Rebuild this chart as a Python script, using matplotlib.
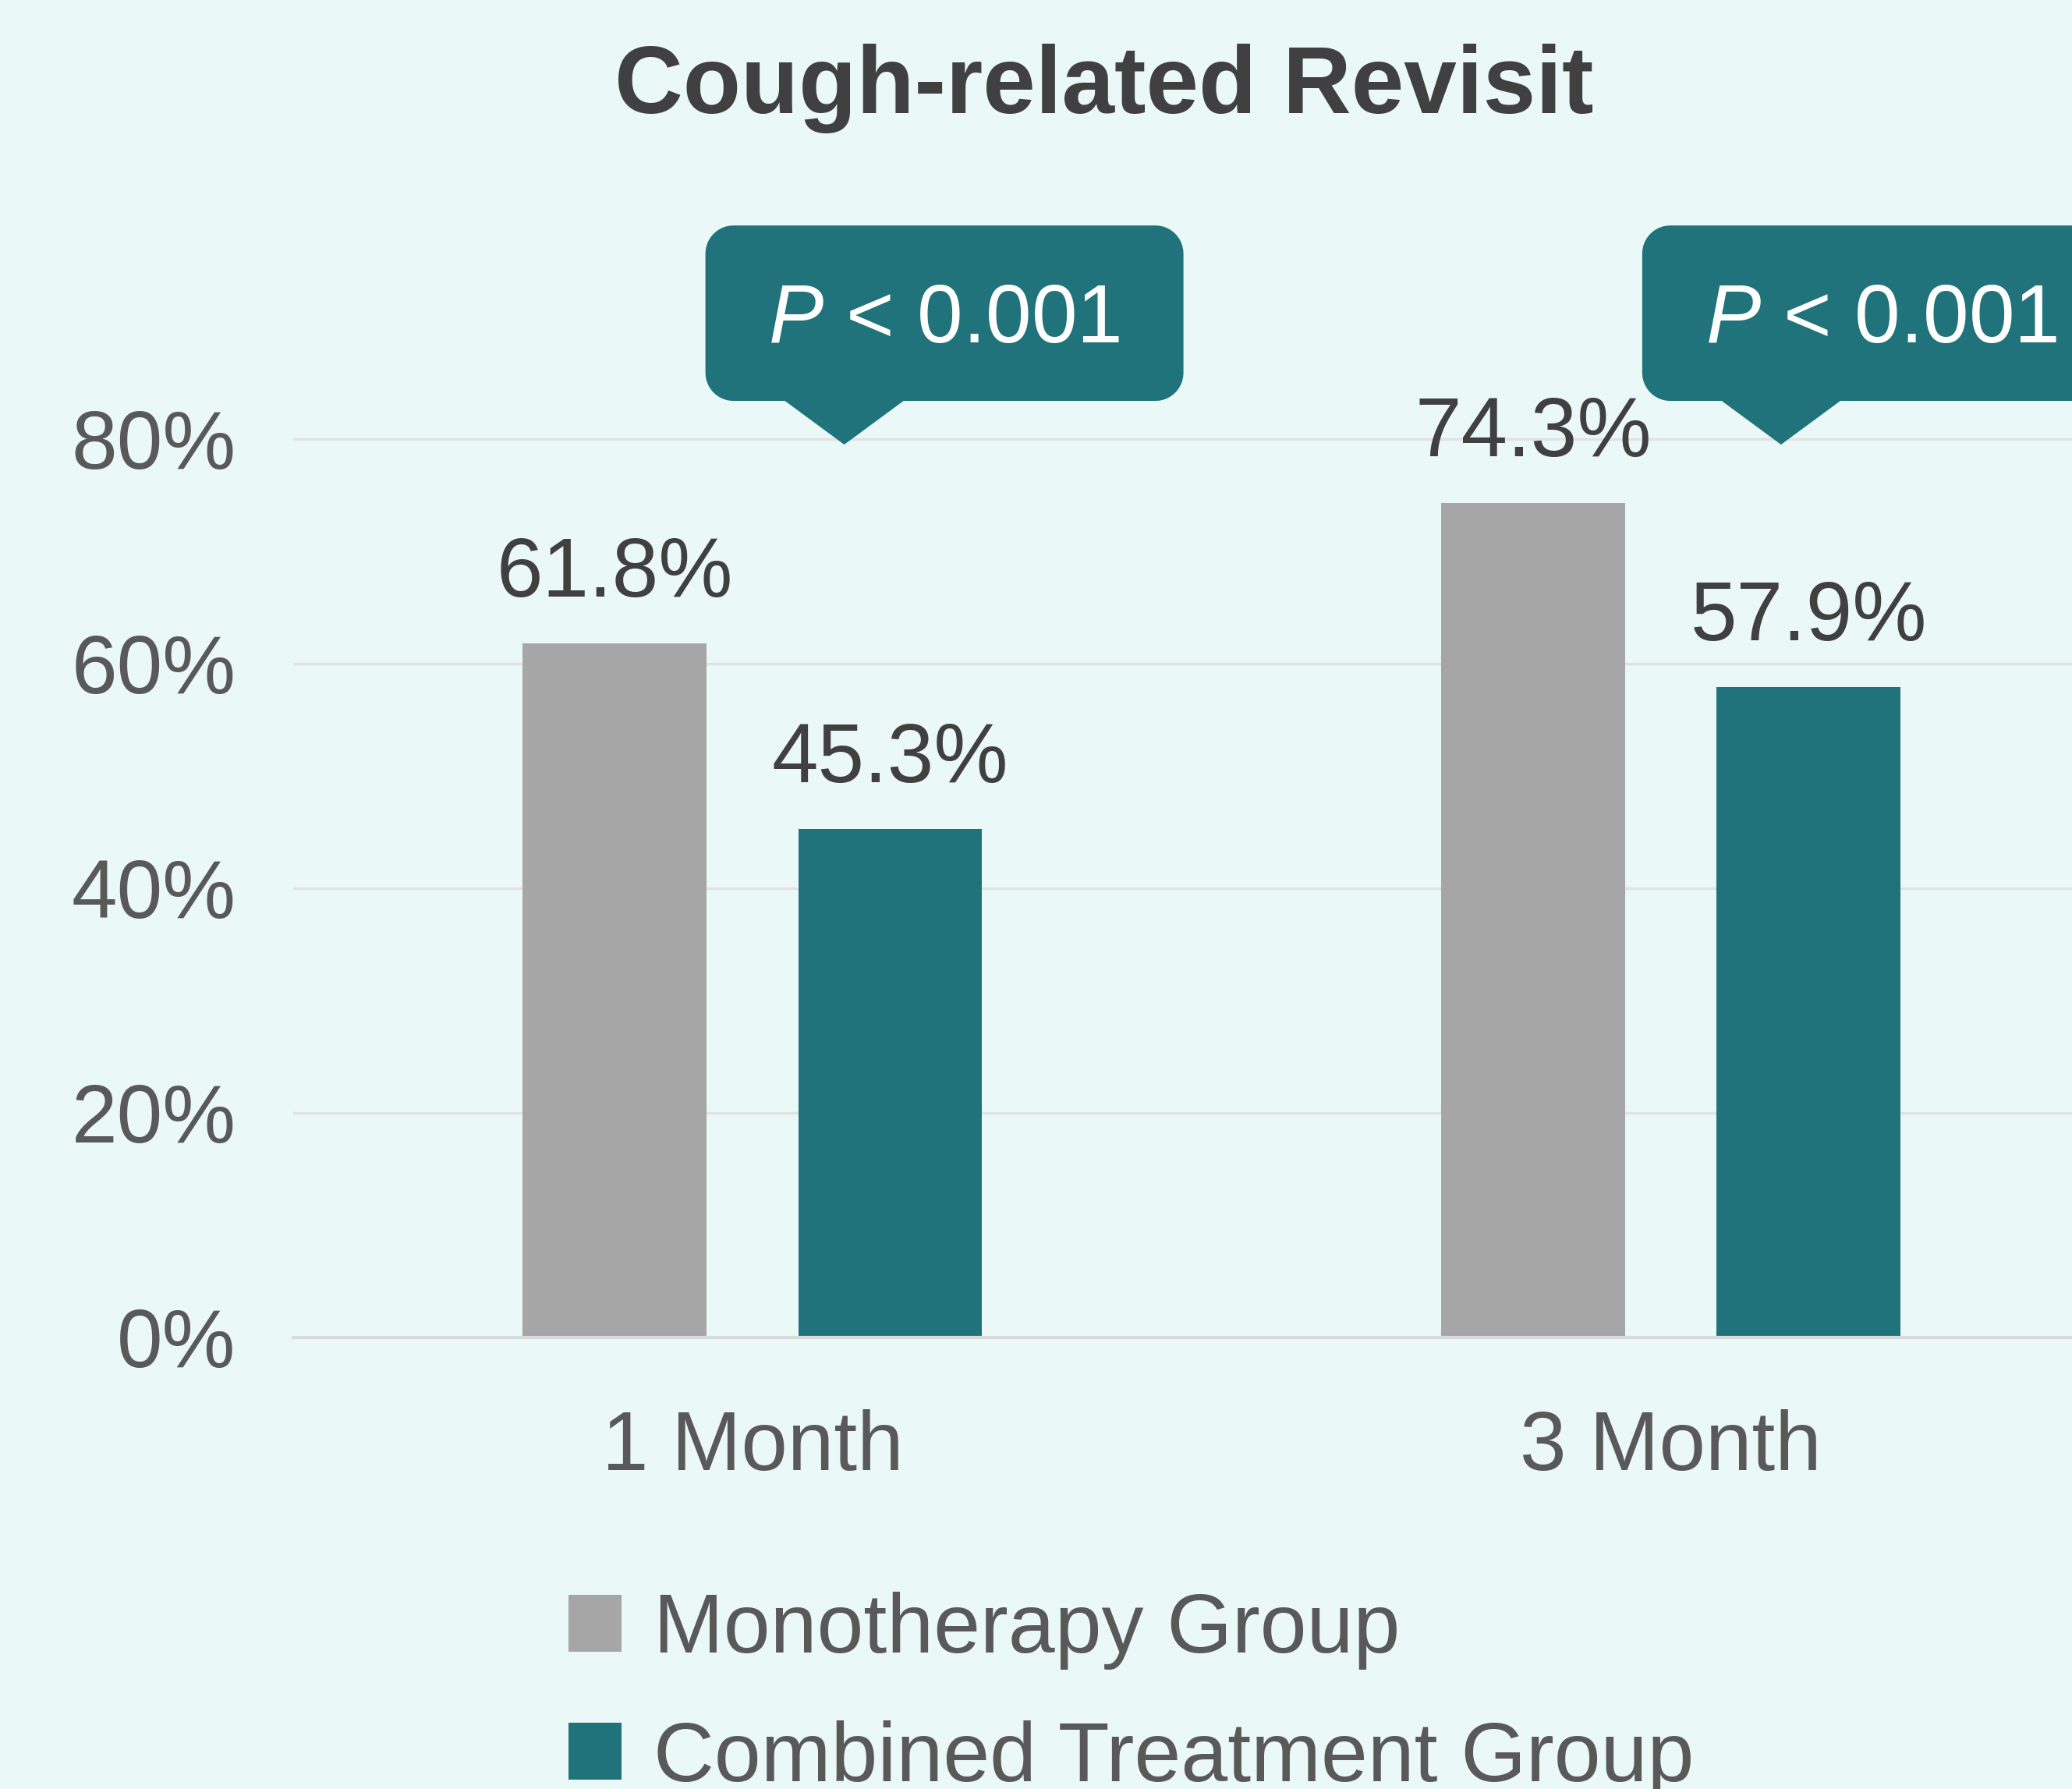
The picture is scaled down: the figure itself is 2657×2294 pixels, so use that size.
import numpy as np
import matplotlib
matplotlib.use("Agg")
import matplotlib.pyplot as plt
from matplotlib.path import Path
from matplotlib.patches import PathPatch
from matplotlib.transforms import ScaledTranslation

# data
categories = ["1 Month", "3 Month"]
series_names = ["Monotherapy Group", "Combined Treatment Group"]
mono_values = [61.8, 74.3]
combined_values = [45.3, 57.9]
p_labels = ["$\\mathit{P}$ < 0.001", "$\\mathit{P}$ < 0.001"]
y_ticks = [0, 20, 40, 60, 80]

BG = "#EAF8F7"
GRAY = "#A6A6A6"
TEAL = "#21737B"

plt.rcParams["font.family"] = ["Liberation Sans", "DejaVu Sans"]
plt.rcParams["mathtext.fontset"] = "custom"
plt.rcParams["mathtext.rm"] = "Liberation Sans"
plt.rcParams["mathtext.it"] = "Liberation Sans:italic"

fig = plt.figure(figsize=(26.57, 22.94), dpi=100, facecolor=BG)
ax = fig.add_axes([0.1415, 0.2524, 0.8865, 0.565])
ax.set_facecolor(BG)

x = np.arange(len(categories))
w = 0.2
b1 = ax.bar(x - 0.15, mono_values, w, color=GRAY, zorder=3, label=series_names[0])
b2 = ax.bar(x + 0.15, combined_values, w, color=TEAL, zorder=3, label=series_names[1])

for bars, vals in [(b1, mono_values), (b2, combined_values)]:
    for rect, v in zip(bars, vals):
        ax.annotate(f"{v:.1f}%", (rect.get_x() + rect.get_width() / 2, v),
                    xytext=(0, 43), textcoords="offset points",
                    ha="center", va="baseline", fontsize=77, color="#404040")

ax.set_xlim(-0.5, 1.5)
ax.set_ylim(0, 90)
ax.set_yticks(y_ticks)
ax.set_yticklabels([f"{t}%" for t in y_ticks])
ax.set_xticks(x)
ax.set_xticklabels(categories)
ax.tick_params(axis="y", length=0, pad=53, labelsize=76, labelcolor="#595959")
ax.tick_params(axis="x", length=0, pad=66, labelsize=77, labelcolor="#595959")
ax.grid(axis="y", color="#E2E2E2", linewidth=2.5, zorder=0)
for s in ["top", "right", "left"]:
    ax.spines[s].set_visible(False)
ax.spines["bottom"].set_color("#D9D9D9")
ax.spines["bottom"].set_linewidth(3)
ax.spines["bottom"].set_zorder(4)

# callout boxes with pointer (shape in inches relative to the tip)
def callout_path(left, right, bottom, top, r, half, n=12):
    verts = [(0, 0), (half, bottom), (right - r, bottom)]
    corners = [(right - r, bottom + r, -90, 0), (right - r, top - r, 0, 90),
               (left + r, top - r, 90, 180), (left + r, bottom + r, 180, 270)]
    for cx, cy, a0, a1 in corners:
        t = np.radians(np.linspace(a0, a1, n))
        verts += list(zip(cx + r * np.cos(t), cy + r * np.sin(t)))
    verts += [(-half, bottom), (0, 0), (0, 0)]
    codes = [Path.MOVETO] + [Path.LINETO] * (len(verts) - 2) + [Path.CLOSEPOLY]
    return Path(verts, codes)

tip_x = [0.1, 1.12]
tip_y = 79.5
shape = callout_path(-1.78, 4.35, 0.56, 2.81, 0.36, 0.76)
for tx, lab in zip(tip_x, p_labels):
    tr = fig.dpi_scale_trans + ScaledTranslation(tx, tip_y, ax.transData)
    ax.add_patch(PathPatch(shape, facecolor=TEAL, edgecolor="none",
                           transform=tr, clip_on=False, zorder=5))
    ax.text(1.285, 1.585, lab, transform=tr, ha="center", va="center",
            fontsize=76, color="white", zorder=6, clip_on=False)

fig.text(0.533, 0.937, "Cough-related Revisit", ha="center", va="baseline",
         fontsize=87.5, fontweight="bold", color="#404040")

fig.legend(handles=[b1, b2], labels=series_names, loc="upper left",
           bbox_to_anchor=(0.2744, 0.1103), frameon=False, fontsize=77.5,
           labelcolor="#595959", handlelength=0.63, handleheight=0.67,
           handletextpad=0.38, labelspacing=0.6, borderpad=0, borderaxespad=0)

fig.savefig("out.png", dpi=100, facecolor=BG)
